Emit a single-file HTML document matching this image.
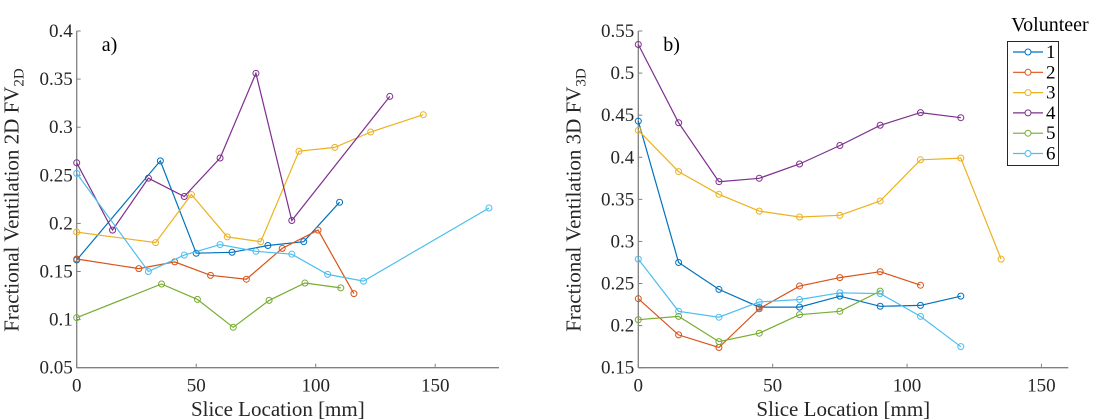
<!DOCTYPE html>
<html><head><meta charset="utf-8"><style>
body{margin:0;background:#fff}
svg{display:block}
svg text{font-family:"Liberation Serif","Times New Roman","DejaVu Serif",serif}
</style></head><body>
<svg id="chart" width="1120" height="420" xmlns="http://www.w3.org/2000/svg" font-family="Liberation Serif, Times New Roman, serif"></svg>
<script>
const colors=["#0072BD","#D95319","#EDB120","#7E2F8E","#77AC30","#4DBEEE"];
const volunteers=["1","2","3","4","5","6"];
// Panel a) data
const a1x=[0,35,50,65,80,95,110], a1y=[0.162,0.265,0.169,0.170,0.177,0.181,0.222];
const a2x=[0,26,41,56,71,86,101,116], a2y=[0.163,0.153,0.160,0.146,0.142,0.174,0.193,0.127];
const a3x=[0,33,48,63,77,93,108,123,145], a3y=[0.191,0.180,0.230,0.186,0.181,0.275,0.279,0.295,0.313];
const a4x=[0,15,30,45,60,75,90,131], a4y=[0.263,0.193,0.247,0.228,0.268,0.356,0.203,0.332];
const a5x=[0,35.5,50.5,65.5,80.5,95.5,110.5], a5y=[0.102,0.137,0.121,0.092,0.120,0.138,0.133];
const a6x=[0,30,45,60,75,90,105,120,172.5], a6y=[0.252,0.150,0.167,0.178,0.171,0.168,0.147,0.140,0.216];
// Panel b) data
const b1x=[0,15,30,45,60,75,90,105,120], b1y=[0.443,0.275,0.243,0.222,0.222,0.235,0.223,0.224,0.235];
const b2x=[0,15,30,45,60,75,90,105], b2y=[0.232,0.189,0.174,0.220,0.247,0.257,0.264,0.248];
const b3x=[0,15,30,45,60,75,90,105,120,135], b3y=[0.432,0.383,0.356,0.336,0.329,0.331,0.348,0.397,0.399,0.279];
const b4x=[0,15,30,45,60,75,90,105,120], b4y=[0.534,0.441,0.371,0.375,0.392,0.414,0.438,0.453,0.447];
const b5x=[0,15,30,45,60,75,90], b5y=[0.207,0.211,0.181,0.191,0.213,0.217,0.241];
const b6x=[0,15,30,45,60,75,90,105,120], b6y=[0.279,0.217,0.210,0.228,0.231,0.239,0.238,0.211,0.175];
const xTicks=[0,50,100,150];
const aYTicks=[0.05,0.1,0.15,0.2,0.25,0.3,0.35,0.4];
const bYTicks=[0.15,0.2,0.25,0.3,0.35,0.4,0.45,0.5,0.55];

const svg=document.getElementById('chart');
const NS="http://www.w3.org/2000/svg";
const FF="Liberation Serif, Times New Roman, DejaVu Serif, serif";
function mk(tag,attrs,parent){const e=document.createElementNS(NS,tag);for(const k in attrs)e.setAttribute(k,attrs[k]);if(tag==='text')e.setAttribute('font-family',FF);(parent||svg).appendChild(e);return e;}

function panel(id,px0,px1,xmax,ymin,ymax,yTicks,seriesX,seriesY,label,sub){
  const top=31,bot=367.7;
  const X=v=>px0+(v/xmax)*(px1-px0);
  const Y=v=>bot-(v-ymin)/(ymax-ymin)*(bot-top);
  const g=mk('g',{});
  
  
  const ax=mk('g',{},g);
  
  
  mk('line',{x1:px0,y1:top,x2:px0,y2:bot,stroke:'#808080','stroke-width':1.3},ax);
  mk('line',{x1:px0,y1:bot,x2:px1,y2:bot,stroke:'#808080','stroke-width':1.3},ax);
  xTicks.forEach(t=>{
    mk('line',{x1:X(t),y1:bot,x2:X(t),y2:bot-4,stroke:'#808080','stroke-width':1},ax);
    const tx=mk('text',{x:X(t),y:bot+24,'text-anchor':'middle','font-size':19,fill:'#262626'},ax);
    tx.textContent=t;
    
    
  });
  yTicks.forEach(t=>{
    mk('line',{x1:px0,y1:Y(t),x2:px0+4,y2:Y(t),stroke:'#808080','stroke-width':1},ax);
    const tx=mk('text',{x:px0-4,y:Y(t)+6,'text-anchor':'end','font-size':19,fill:'#262626'},ax);
    tx.textContent=String(t);
    
    
  });
  const xl=mk('text',{x:(px0+px1)/2-10,y:416,'text-anchor':'middle','font-size':21,fill:'#262626'},g);
  xl.textContent='Slice Location [mm]';
  
  
  const yl=mk('text',{x:0,y:0,'text-anchor':'middle','font-size':21,fill:'#262626',transform:`translate(${px0-58},200) rotate(-90)`},g);
  
  
  yl.textContent='Fractional Ventilation '+sub+' FV';
  const ts=mk('tspan',{dy:5,'font-size':15},yl);ts.textContent=sub;
  const pl=mk('text',{x:px0+25,y:51,'font-size':20,fill:'#000'},g);
  pl.textContent=label;
  
  
  seriesX.forEach((xs,i)=>{
    const ys=seriesY[i];
    const sg=mk('g',{},g);
    
    
    const pts=xs.map((x,j)=>X(x).toFixed(1)+','+Y(ys[j]).toFixed(1)).join(' ');
    mk('polyline',{points:pts,fill:'none',stroke:colors[i],'stroke-width':1.2},sg);
    xs.forEach((x,j)=>{
      const c=mk('circle',{cx:X(x),cy:Y(ys[j]),r:3,fill:'none',stroke:colors[i],'stroke-width':1},sg);
      
      
    });
  });
}
panel('a',76.7,499,176.7,0.05,0.4,aYTicks,[a1x,a2x,a3x,a4x,a5x,a6x],[a1y,a2y,a3y,a4y,a5y,a6y],'a)','2D');
panel('b',638.3,1068.3,160,0.15,0.55,bYTicks,[b1x,b2x,b3x,b4x,b5x,b6x],[b1y,b2y,b3y,b4y,b5y,b6y],'b)','3D');

// legend
const lg=mk('g',{});


const lt=mk('text',{x:1050,y:31,'text-anchor':'middle','font-size':20,fill:'#000'},lg);
lt.textContent='Volunteer';


mk('rect',{x:1007.5,y:41.5,width:51,height:124,fill:'#fff',stroke:'#262626','stroke-width':1},lg);
volunteers.forEach((v,i)=>{
  const y=52+i*20.3;
  const e=mk('g',{},lg);
  
  
  mk('line',{x1:1013,y1:y,x2:1043,y2:y,stroke:colors[i],'stroke-width':1.2},e);
  mk('circle',{cx:1028,cy:y,r:3,fill:'#fff',stroke:colors[i],'stroke-width':1},e);
  const t=mk('text',{x:1046,y:y+6,'font-size':19,fill:'#000'},e);
  t.textContent=v;
});
</script>
</body></html>
